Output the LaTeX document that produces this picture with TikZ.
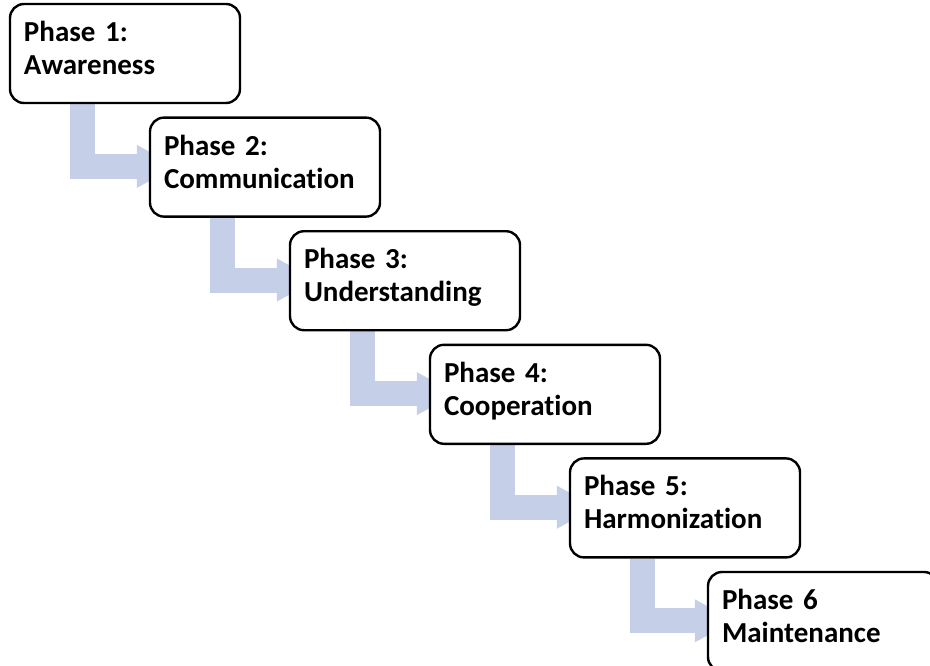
\documentclass[tikz,border=0pt]{standalone}
\usepackage{fontspec}
\setmainfont{Carlito}[Ligatures=CommonOff]
\usetikzlibrary{positioning,arrows.meta,backgrounds,calc}
\definecolor{flowblue}{RGB}{197,207,231}
\tikzstyle{phasebox}=[rectangle, rounded corners=7pt, draw=black, line width=1.2pt, fill=white,
minimum width=115pt, minimum height=49.5pt, text width=101pt, inner xsep=7pt, align=left,
text height=10pt, text depth=22pt, font=\fontsize{14.5pt}{16.5pt}\selectfont\bfseries]
\tikzstyle{flow}=[-{Triangle[length=20pt,width=20pt]}, draw=flowblue, line width=12.5pt, line join=miter]
\newcommand\phaseflow[2]{
            \draw[flow] ($(#1.south west)+(37pt,0)$) |- ($(#2.north west)+(14pt,-25pt)$);
        }

\begin{document}
\begin{tikzpicture}[node distance=6.1pt and -46.2pt]

    \useasboundingbox (0,0) rectangle (465pt,-332.5pt);

    \node (p1) [phasebox] at (62.5pt,-26.75pt) {Phase 1:\\ Awareness};
    \node (p2) [phasebox, below right=of p1] {Phase 2:\\ Communication};
    \node (p3) [phasebox, below right=of p2] {Phase 3:\\ Understanding};
    \node (p4) [phasebox, below right=of p3] {Phase 4:\\ Cooperation};
    \node (p5) [phasebox, below right=of p4] {Phase 5:\\ Harmonization};
    \node (p6) [phasebox, below right=6.1pt and -47.2pt of p5] {Phase 6\\ Maintenance};

%flow arrows sit behind the boxes
    \begin{scope}[on background layer]
    \phaseflow{p1}{p2}
    \phaseflow{p2}{p3}
    \phaseflow{p3}{p4}
    \phaseflow{p4}{p5}
    \phaseflow{p5}{p6}
    \end{scope}

\end{tikzpicture}
\end{document}
